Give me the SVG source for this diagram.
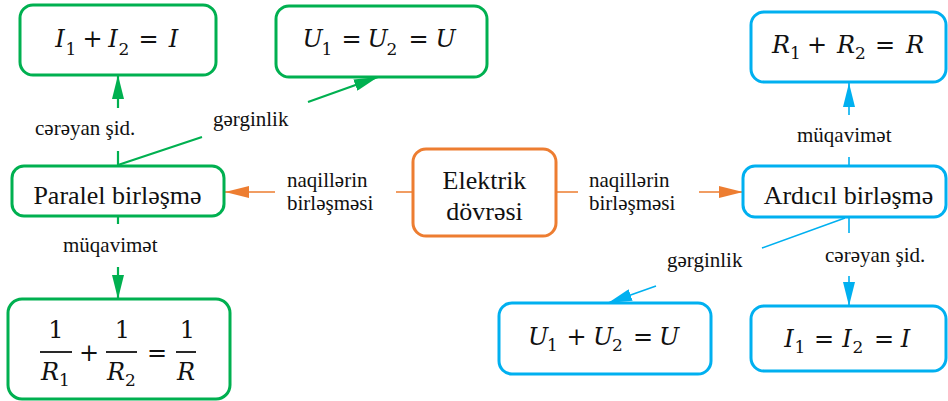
<svg xmlns="http://www.w3.org/2000/svg" width="948" height="401" viewBox="0 0 948 401">
<style>
.box{fill:#fff;stroke-width:3}
.g{stroke:#00b050}
.o{stroke:#ed7d31}
.b{stroke:#00b0f0}
.con{fill:none}
.lbl{font-family:"Liberation Serif","Times New Roman",serif;font-size:21px;fill:#111}
.nt{font-family:"Liberation Serif","Times New Roman",serif;font-size:26px;fill:#111;text-anchor:middle}
.f{font-family:"DejaVu Serif",serif;font-size:24px;fill:#111;text-anchor:middle}
.i{font-style:italic}
.s{font-size:17px;font-style:normal}
</style>
<defs>
<marker id="ag" markerUnits="userSpaceOnUse" viewBox="0 0 24 12" markerWidth="24" markerHeight="12" refX="24" refY="6" orient="auto"><path d="M0,0 L24,6 L0,12 z" fill="#00b050"/></marker>
<marker id="ao" markerUnits="userSpaceOnUse" viewBox="0 0 24 12" markerWidth="24" markerHeight="12" refX="24" refY="6" orient="auto"><path d="M0,0 L24,6 L0,12 z" fill="#ed7d31"/></marker>
<marker id="ab" markerUnits="userSpaceOnUse" viewBox="0 0 24 12" markerWidth="24" markerHeight="12" refX="24" refY="6" orient="auto"><path d="M0,0 L24,6 L0,12 z" fill="#00b0f0"/></marker>
</defs>

<g id="connectors" class="con">
<path class="g" stroke-width="2.2" d="M118,166 V151 M118,108 V75" marker-end="url(#ag)"/>
<path class="g" stroke-width="2.2" d="M118,165 L202,137 M308,102 L378,77" marker-end="url(#ag)"/>
<path class="g" stroke-width="2.2" d="M118,216 V224 M118,267 V299" marker-end="url(#ag)"/>
<path class="o" stroke-width="1.6" d="M413,192 H396 M275,192 H225" marker-end="url(#ao)"/>
<path class="o" stroke-width="1.6" d="M556,192 H578 M699,192 H743" marker-end="url(#ao)"/>
<path class="b" stroke-width="1.6" d="M849,166 V157 M849,115 V83" marker-end="url(#ab)"/>
<path class="b" stroke-width="1.6" d="M849,217 V233 M849,276 V306" marker-end="url(#ab)"/>
<path class="b" stroke-width="1.6" d="M845,218 L762,248 M656,286 L608,303" marker-end="url(#ab)"/>
</g>

<g id="labels">
<text class="lbl" x="35" y="135">cərəyan şid.</text>
<text class="lbl" x="213" y="126">gərginlik</text>
<text class="lbl" x="63" y="252">müqavimət</text>
<text class="lbl" x="287" y="187">naqillərin</text>
<text class="lbl" x="287" y="210">birləşməsi</text>
<text class="lbl" x="589" y="187">naqillərin</text>
<text class="lbl" x="589" y="210">birləşməsi</text>
<text class="lbl" x="797" y="142">müqavimət</text>
<text class="lbl" x="825" y="262">cərəyan şid.</text>
<text class="lbl" x="667" y="267">gərginlik</text>
</g>

<g id="elektrik">
<rect class="box o" x="413" y="149" width="143" height="87" rx="13"/>
<text class="nt" x="484.5" y="189">Elektrik</text>
<text class="nt" x="484.5" y="220">dövrəsi</text>
</g>

<g id="paralel">
<rect class="box g" x="12" y="166" width="212" height="50" rx="12"/>
<text class="nt" x="117.5" y="204">Paralel birləşmə</text>
</g>

<g id="ardicil">
<rect class="box b" x="743" y="166" width="203" height="51" rx="12"/>
<text class="nt" x="848.5" y="204">Ardıcıl birləşmə</text>
</g>

<g id="par-current">
<rect class="box g" x="20" y="5" width="196" height="70" rx="13"/>
<text class="f"><tspan class="i" x="60" y="47">I</tspan><tspan class="s" x="71" y="55">1</tspan><tspan x="92.5" y="47">+</tspan><tspan class="i" x="113" y="47">I</tspan><tspan class="s" x="124" y="55">2</tspan><tspan x="148.5" y="47">=</tspan><tspan class="i" x="173.5" y="47">I</tspan></text>
</g>

<g id="par-voltage">
<rect class="box g" x="276" y="6" width="211" height="71" rx="13"/>
<text class="f"><tspan class="i" x="312.5" y="47">U</tspan><tspan class="s" x="327" y="55">1</tspan><tspan x="351.5" y="47">=</tspan><tspan class="i" x="377.5" y="47">U</tspan><tspan class="s" x="392" y="55">2</tspan><tspan x="418.5" y="47">=</tspan><tspan class="i" x="445.5" y="47">U</tspan></text>
</g>

<g id="par-resistance">
<rect class="box g" x="8" y="299" width="222" height="100" rx="14"/>
<line x1="40" y1="352" x2="72" y2="352" stroke="#111" stroke-width="1.8"/>
<line x1="106" y1="352" x2="137" y2="352" stroke="#111" stroke-width="1.8"/>
<line x1="176" y1="352" x2="196" y2="352" stroke="#111" stroke-width="1.8"/>
<text class="f"><tspan x="56" y="338">1</tspan><tspan x="122.5" y="338">1</tspan><tspan x="187.5" y="338">1</tspan><tspan x="89" y="361">+</tspan><tspan x="157" y="361">=</tspan><tspan class="i" x="50" y="380">R</tspan><tspan class="s" x="64.5" y="386">1</tspan><tspan class="i" x="116" y="380">R</tspan><tspan class="s" x="130.5" y="386">2</tspan><tspan class="i" x="186" y="380">R</tspan></text>
</g>

<g id="ser-resistance">
<rect class="box b" x="751" y="12" width="195" height="70" rx="13"/>
<text class="f"><tspan class="i" x="781" y="53">R</tspan><tspan class="s" x="795.5" y="59">1</tspan><tspan x="817" y="53">+</tspan><tspan class="i" x="846" y="53">R</tspan><tspan class="s" x="860.5" y="59">2</tspan><tspan x="885" y="53">=</tspan><tspan class="i" x="915" y="53">R</tspan></text>
</g>

<g id="ser-voltage">
<rect class="box b" x="499" y="303" width="212" height="71" rx="13"/>
<text class="f"><tspan class="i" x="538" y="345">U</tspan><tspan class="s" x="552.5" y="351">1</tspan><tspan x="576.5" y="345">+</tspan><tspan class="i" x="603" y="345">U</tspan><tspan class="s" x="617.5" y="351">2</tspan><tspan x="643" y="345">=</tspan><tspan class="i" x="669" y="345">U</tspan></text>
</g>

<g id="ser-current">
<rect class="box b" x="751" y="306" width="195" height="65" rx="13"/>
<text class="f"><tspan class="i" x="789" y="347">I</tspan><tspan class="s" x="800" y="353">1</tspan><tspan x="824" y="347">=</tspan><tspan class="i" x="847" y="347">I</tspan><tspan class="s" x="858" y="353">2</tspan><tspan x="884" y="347">=</tspan><tspan class="i" x="905.5" y="347">I</tspan></text>
</g>
</svg>
